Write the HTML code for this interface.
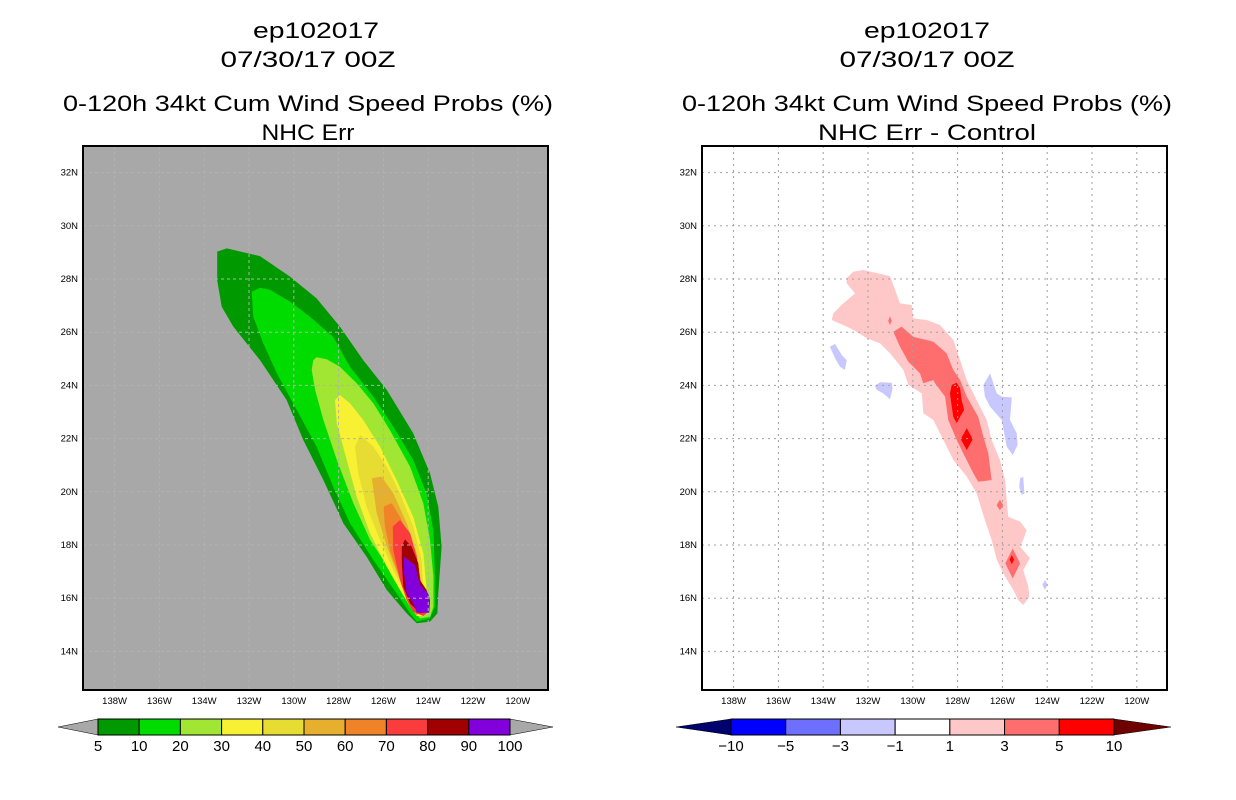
<!DOCTYPE html>
<html><head><meta charset="utf-8"><style>
html,body{margin:0;padding:0;background:#fff;}
svg{display:block;font-family:"Liberation Sans",sans-serif;}
.t{font-size:22px;text-anchor:middle;fill:#000;}
.tk{font-size:9.5px;fill:#000;}
.cb{font-size:15px;text-anchor:middle;fill:#000;}
</style></head><body>
<svg id="s" width="1236" height="800" viewBox="0 0 1236 800">
<text class="t" x="316" y="38" textLength="126" lengthAdjust="spacingAndGlyphs">ep102017</text>
<text class="t" x="308" y="67" textLength="175" lengthAdjust="spacingAndGlyphs">07/30/17 00Z</text>
<text class="t" x="308" y="111" textLength="490" lengthAdjust="spacingAndGlyphs">0-120h 34kt Cum Wind Speed Probs (%)</text>
<text class="t" x="308" y="140" textLength="93" lengthAdjust="spacingAndGlyphs">NHC Err</text>
<text class="t" x="927" y="38" textLength="126" lengthAdjust="spacingAndGlyphs">ep102017</text>
<text class="t" x="927" y="67" textLength="175" lengthAdjust="spacingAndGlyphs">07/30/17 00Z</text>
<text class="t" x="927" y="111" textLength="490" lengthAdjust="spacingAndGlyphs">0-120h 34kt Cum Wind Speed Probs (%)</text>
<text class="t" x="927" y="140" textLength="218" lengthAdjust="spacingAndGlyphs">NHC Err - Control</text>
</svg>
<script>
const NS="http://www.w3.org/2000/svg";
const svg=document.getElementById('s');
const latTicks=[14,16,18,20,22,24,26,28,30,32];
const lonTicks=[138,136,134,132,130,128,126,124,122,120];
// probability contours (lon W, lat N)
const c5=[[133.42,29.03],[132.99,29.15],[131.51,28.86],[130.17,28.09],[128.98,27.27],[127.94,26.21],[126.90,24.95],[125.85,23.83],[124.67,22.20],[123.92,20.70],[123.55,19.44],[123.40,17.94],[123.55,16.18],[123.59,15.43],[123.92,15.12],[124.51,15.06],[124.96,15.43],[125.85,16.31],[126.75,17.56],[127.79,18.82],[128.68,20.44],[129.58,21.95],[130.32,23.45],[131.51,24.95],[132.70,26.21],[133.22,26.96],[133.42,27.96]];
const c10=[[131.88,27.52],[131.51,27.67],[131.06,27.59],[130.17,27.15],[129.28,26.58],[128.24,25.83],[127.49,24.70],[126.45,23.58],[125.56,22.45],[124.67,21.20],[124.07,19.94],[123.77,18.56],[123.70,16.94],[123.70,15.68],[123.92,15.24],[124.51,15.12],[124.81,15.43],[125.41,16.18],[126.45,17.44],[127.49,18.82],[128.24,20.19],[128.98,21.70],[129.87,23.08],[130.76,24.46],[131.36,25.58],[131.81,26.58]];
const c20=[[129.13,24.95],[128.98,25.06],[128.53,24.98],[127.94,24.70],[127.19,24.08],[126.45,23.33],[125.71,22.32],[124.81,20.94],[124.22,19.57],[123.92,18.19],[123.77,16.81],[123.77,15.68],[123.92,15.30],[124.37,15.24],[124.67,15.56],[125.11,16.18],[125.71,17.06],[126.60,18.19],[127.34,19.57],[128.08,21.20],[128.68,22.70],[129.05,23.83],[129.20,24.58]];
const c30=[[128.16,23.45],[127.94,23.64],[127.49,23.33],[126.90,22.70],[126.15,21.70],[125.41,20.44],[124.67,19.06],[124.22,17.69],[124.07,16.31],[124.07,15.56],[124.22,15.33],[124.51,15.33],[124.81,15.68],[125.26,16.31],[125.85,17.18],[126.60,18.44],[127.19,19.82],[127.64,21.20],[128.08,22.58]];
const c40=[[127.27,21.70],[127.04,22.14],[126.45,21.70],[125.85,20.94],[125.26,19.94],[124.67,18.69],[124.29,17.44],[124.22,16.18],[124.29,15.49],[124.51,15.37],[124.81,15.68],[125.11,16.31],[125.56,17.06],[126.15,18.19],[126.75,19.44],[127.12,20.70]];
const c50=[[126.52,20.51],[126.08,20.57],[125.56,19.94],[124.96,18.82],[124.51,17.69],[124.37,16.43],[124.29,15.56],[124.51,15.37],[124.81,15.68],[125.26,16.68],[125.85,17.94],[126.30,19.19]];
const c60=[[126.00,19.44],[125.63,19.57],[125.26,19.06],[124.81,18.19],[124.51,17.06],[124.37,16.18],[124.29,15.56],[124.51,15.37],[124.81,15.68],[125.18,16.56],[125.71,17.81],[125.93,18.69]];
const c70=[[125.58,18.69],[125.26,18.94],[124.81,18.44],[124.51,17.56],[124.29,16.43],[124.07,15.93],[124.00,15.49],[124.22,15.33],[124.67,15.49],[124.96,15.93],[125.26,16.68],[125.56,17.81]];
const c80=[[125.18,17.94],[125.04,18.21],[124.74,17.94],[124.44,17.31],[124.37,16.68],[124.07,16.31],[123.92,15.81],[124.00,15.49],[124.37,15.43],[124.81,15.81],[125.11,16.43],[125.18,17.31]];
const c90=[[125.08,17.56],[124.59,17.25],[124.37,16.50],[124.00,16.18],[123.92,15.93],[123.95,15.45],[124.51,15.45],[124.67,15.81],[124.96,16.18],[125.08,16.94]];
const probContours=[c5,c10,c20,c30,c40,c50,c60,c70,c80,c90];
const probLevels=["5","10","20","30","40","50","60","70","80","90","100"];
const probColors=["#009a00","#00dc00","#a0e632","#f8f032","#e6dc32","#e6af2d","#f08228","#fa3c3c","#a00000","#8200dc"];
// difference contours
const d1=[[132.95,28.03],[132.66,28.27],[132.21,28.34],[131.02,28.11],[130.57,27.09],[130.05,27.02],[129.98,26.52],[129.38,26.46],[128.79,26.27],[128.19,25.71],[127.89,24.95],[127.59,24.20],[127.15,23.45],[126.70,22.70],[126.48,21.95],[126.11,21.20],[125.88,20.44],[125.81,19.69],[125.74,19.06],[125.21,18.88],[124.92,18.56],[125.07,18.19],[125.21,17.94],[124.77,17.50],[125.07,17.06],[124.84,16.43],[124.80,16.06],[125.07,15.74],[125.29,15.92],[125.51,16.31],[125.88,16.81],[126.25,17.44],[126.48,18.19],[126.78,18.94],[127.15,19.94],[127.59,20.57],[128.19,21.20],[128.64,21.95],[129.08,22.70],[129.53,22.95],[129.60,23.70],[130.20,24.02],[130.42,24.58],[131.02,25.21],[131.46,25.58],[132.06,25.77],[132.50,26.02],[132.95,26.21],[133.62,26.46],[133.55,26.71],[133.10,27.09],[132.58,27.46],[132.95,27.84]];
const d3a=[[130.87,26.02],[130.50,26.21],[129.98,25.83],[129.08,25.64],[128.49,25.21],[128.19,24.58],[127.89,24.20],[127.59,23.58],[127.08,22.82],[126.85,22.07],[126.63,21.45],[126.48,20.44],[127.08,20.38],[127.30,20.70],[127.75,21.45],[128.04,21.95],[128.42,22.70],[128.56,23.58],[129.01,24.08],[129.08,24.20],[129.53,24.08],[129.68,24.45],[130.20,24.89],[130.57,25.45]];
const d3b=[[125.87,17.31],[125.54,17.87],[125.21,17.31],[125.54,16.74]];
const d3c=[[125.96,19.50],[126.11,19.70],[126.26,19.50],[126.11,19.30]];
const d3d=[[130.94,26.43],[131.02,26.60],[131.10,26.43],[131.02,26.26]];
const d5a=[[128.26,24.02],[128.04,24.10],[127.89,23.89],[127.82,23.45],[127.71,23.08],[127.89,22.82],[128.04,22.58],[128.19,22.82],[128.26,23.20],[128.34,23.70]];
const d5b=[[127.86,21.98],[127.59,22.39],[127.32,21.98],[127.59,21.57]];
const d5c=[[125.48,17.45],[125.58,17.62],[125.68,17.45],[125.58,17.28]];
const dm1a=[[133.70,25.45],[133.47,25.56],[133.17,25.14],[132.95,24.95],[133.03,24.58],[133.25,24.70],[133.47,25.02]];
const dm1b=[[131.69,23.98],[131.46,24.12],[130.94,24.10],[130.90,23.89],[131.02,23.48],[131.32,23.70],[131.61,23.83]];
const dm1c=[[126.85,24.02],[126.55,24.45],[126.25,23.70],[126.03,23.58],[125.58,23.55],[125.66,22.70],[125.36,22.20],[125.32,21.76],[125.54,21.38],[125.81,21.70],[126.03,22.70],[126.55,23.20],[126.78,23.58]];
const dm1d=[[125.21,20.51],[125.07,20.57],[125.02,19.94],[125.14,19.88],[125.25,20.19]];
const dm1e=[[124.22,16.50],[124.10,16.68],[123.98,16.50],[124.10,16.32]];
const diffContours=[d1,d3a,d3b,d3c,d3d,d5a,d5b,d5c,dm1a,dm1b,dm1c,dm1d,dm1e];
const diffClass=["1","3","3","3","3","5","5","5","-1","-1","-1","-1","-1"];
const diffLevels=["-10","-5","-3","-1","1","3","5","10"];
const diffColors=["#0000ff","#6e6eff","#c8c8ff","#ffffff","#ffc8c8","#ff6e6e","#ff0000"];
const diffFill={"1":"#ffc8c8","3":"#ff6e6e","5":"#ff0000","-1":"#c8c8ff"};

function mk(tag,attrs,parent){const e=document.createElementNS(NS,tag);for(const k in attrs)e.setAttribute(k,attrs[k]);(parent||svg).appendChild(e);return e;}
function xScale(off){return lon=>off+249+(132-lon)*22.4;}
function yScale(lat){return 279+(28-lat)*26.6;}
function pts(poly,xs){return poly.map(p=>xs(p[0]).toFixed(1)+","+yScale(p[1]).toFixed(1)).join(" ");}

function panel(off,name,bg){
  const g=mk('g',{});
  
  
  const clip=mk('clipPath',{id:'cl'+off},g);
  mk('rect',{x:83+off,y:146,width:465,height:544},clip);
  const bgr=mk('rect',{x:83+off,y:146,width:465,height:544,fill:bg},g);
  
  
  const inner=mk('g',{'clip-path':'url(#cl'+off+')'},g);
  return {g,inner};
}
function gridAndAxes(p,off,name,gridCol,gridDash){
  const xs=xScale(off);
  lonTicks.forEach(l=>{
    const gl=mk('line',{x1:xs(l),x2:xs(l),y1:146,y2:690,stroke:gridCol,'stroke-width':1,'stroke-dasharray':gridDash},p.inner);
    
    
    const t=mk('text',{x:xs(l),y:704,class:'tk','text-anchor':'middle'},p.g);
    t.textContent=l+'W';
    
    
  });
  latTicks.forEach(l=>{
    const gl=mk('line',{x1:83+off,x2:548+off,y1:yScale(l),y2:yScale(l),stroke:gridCol,'stroke-width':1,'stroke-dasharray':gridDash},p.inner);
    
    
    const t=mk('text',{x:78+off,y:yScale(l)+3,class:'tk','text-anchor':'end'},p.g);
    t.textContent=l+'N';
    
    
  });
  const fr=mk('rect',{x:83+off,y:146,width:465,height:544,fill:'none',stroke:'#000','stroke-width':2},p.g);
  
  
}
// left panel
const L=panel(0,'left','#a8a8a8');
probContours.forEach((c,i)=>{
  const pg=mk('polygon',{points:pts(c,xScale(0)),fill:probColors[i]},L.inner);
  
  
});
gridAndAxes(L,0,'left','#b2b2b2','3,3');
// right panel
const R=panel(619,'right','#ffffff');
diffContours.forEach((c,i)=>{
  const pg=mk('polygon',{points:pts(c,xScale(619)),fill:diffFill[diffClass[i]]},R.inner);
  
  
});
gridAndAxes(R,619,'right','#a0a0a0','2,4');

// colorbars
function colorbar(x0,x1,tipL,tipR,cols,labels,lc,rc,name){
  const g=mk('g',{});
  
  
  const y0=719,y1=735,ym=727,w=(x1-x0)/cols.length;
  const tl=mk('polygon',{points:`${tipL},${ym} ${x0},${y0} ${x0},${y1}`,fill:lc,stroke:'#000','stroke-width':0.5},g);
  
  
  const tr=mk('polygon',{points:`${tipR},${ym} ${x1},${y0} ${x1},${y1}`,fill:rc,stroke:'#000','stroke-width':0.5},g);
  
  
  cols.forEach((c,i)=>{
    const r=mk('rect',{x:x0+i*w,y:y0,width:w,height:y1-y0,fill:c,stroke:'#000','stroke-width':1},g);
    
    
  });
  labels.forEach((l,i)=>{
    const t=mk('text',{x:x0+i*w,y:751,class:'cb'},g);
    t.textContent=l.replace('-','\u2212');
    
    
  });
}
colorbar(98,510,58,553,probColors,probLevels,'#a8a8a8','#a8a8a8','prob-colorbar');
colorbar(731,1114,676,1171,diffColors,diffLevels,'#00006e','#6e0000','diff-colorbar');
</script>
</body></html>
